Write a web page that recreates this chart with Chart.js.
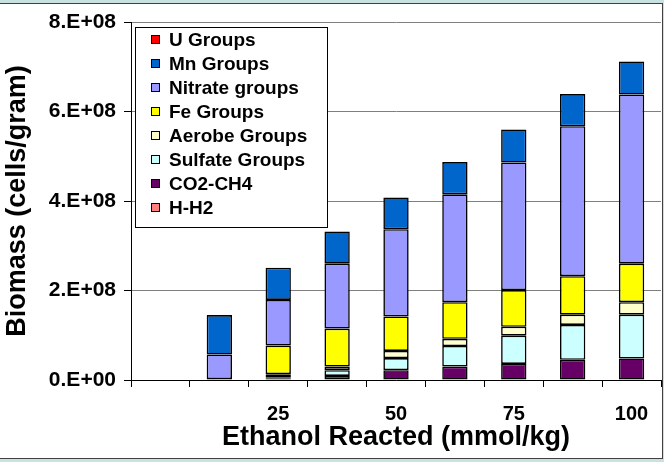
<!DOCTYPE html>
<html>
<head>
<meta charset="utf-8">
<title>Biomass vs Ethanol Reacted</title>
<script src="https://cdn.jsdelivr.net/npm/chart.js@4.4.0/dist/chart.umd.min.js"></script>
<style>
  html, body { margin: 0; padding: 0; }
  body { width: 664px; height: 462px; background: #c8e2e2; position: relative; overflow: hidden; }
  #frame { position: absolute; left: -1px; top: 3px; width: 662px; height: 454px; background: #fff; border: 1px solid #404040; }
  #wrap { position: absolute; left: 0; top: 0; width: 664px; height: 462px; }
</style>
</head>
<body>
<div id="frame"></div>
<div id="wrap"><canvas id="myChart" width="664" height="462"></canvas></div>
<script>
var ethanol = [0, 12.5, 25, 37.5, 50, 62.5, 75, 87.5, 100];
var tickLabels = ["", "", "25", "", "50", "", "75", "", "100"];

// biomass in cells/gram, listed from the bottom of the stack up
var hH2     = [0, 0.01e8, 0.01e8, 0.01e8, 0.01e8, 0.01e8, 0.01e8, 0.01e8, 0.01e8];
var co2CH4  = [0, 0.01e8, 0.02e8, 0.08e8, 0.21e8, 0.29e8, 0.35e8, 0.44e8, 0.47e8];
var sulfate = [0, 0, 0.03e8, 0.13e8, 0.27e8, 0.46e8, 0.63e8, 0.78e8, 0.98e8];
var aerobe  = [0, 0, 0.07e8, 0.08e8, 0.16e8, 0.16e8, 0.20e8, 0.23e8, 0.28e8];
var fe      = [0, 0, 0.64e8, 0.85e8, 0.77e8, 0.82e8, 0.82e8, 0.86e8, 0.86e8];
var nitrate = [0, 0.55e8, 1.02e8, 1.45e8, 1.95e8, 2.41e8, 2.85e8, 3.35e8, 3.78e8];
var mn      = [0, 0.88e8, 0.72e8, 0.72e8, 0.71e8, 0.72e8, 0.74e8, 0.72e8, 0.74e8];
var uGroups = [0, 0, 0, 0, 0, 0, 0, 0, 0];

var FONT = '"Liberation Sans", Arial, sans-serif';

function sci(v) {
    if (v === 0) return "0.E+00";
    var e = Math.floor(Math.log10(v));
    var m = Math.round(v / Math.pow(10, e));
    return m + ".E+" + (e < 10 ? "0" + e : e);
}

function series(label, data, color) {
    return {
        label: label,
        data: data,
        backgroundColor: color,
        borderColor: "#000",
        borderWidth: 1.6,
        borderSkipped: false,
        barPercentage: 0.43,
        categoryPercentage: 1
    };
}

// legend box sitting inside the plot, top of stack listed first
var boxLegend = {
    id: "boxLegend",
    afterDraw: function (chart) {
        var ctx = chart.ctx;
        var sets = chart.data.datasets.slice().reverse();
        ctx.save();
        ctx.fillStyle = "#fff";
        ctx.fillRect(135.5, 27.5, 192, 200);
        ctx.strokeStyle = "#000";
        ctx.lineWidth = 1;
        ctx.strokeRect(135.5, 27.5, 192, 200);
        ctx.font = "bold 19px " + FONT;
        ctx.textBaseline = "middle";
        ctx.textAlign = "left";
        for (var i = 0; i < sets.length; i++) {
            var y = 40 + i * 24;
            ctx.fillStyle = sets[i].backgroundColor;
            ctx.fillRect(151, y - 5, 9, 9);
            ctx.strokeRect(151.5, y - 4.5, 8, 8);
            ctx.fillStyle = "#000";
            ctx.fillText(sets[i].label, 169, y + 1);
        }
        ctx.restore();
    }
};

function makeChart() {
    var ctx = document.getElementById("myChart");
    var myChart = new Chart(ctx, {
        type: "bar",
        data: {
            labels: ethanol,
            datasets: [
                series("H-H2", hH2, "#ff8080"),
                series("CO2-CH4", co2CH4, "#660066"),
                series("Sulfate Groups", sulfate, "#ccffff"),
                series("Aerobe Groups", aerobe, "#ffffcc"),
                series("Fe Groups", fe, "#ffff00"),
                series("Nitrate groups", nitrate, "#9999ff"),
                series("Mn Groups", mn, "#0066cc"),
                series("U Groups", uGroups, "#ff0000")
            ]
        },
        options: {
            responsive: false,
            animation: false,
            devicePixelRatio: 1,
            layout: { padding: { top: 22, right: 3, bottom: 0, left: 0 } },
            plugins: {
                legend: { display: false },
                tooltip: { enabled: false }
            },
            scales: {
                x: {
                    stacked: true,
                    afterFit: function (scale) { scale.height = 82; },
                    grid: {
                        offset: true,
                        drawOnChartArea: false,
                        tickLength: 7,
                        tickColor: "#000",
                        color: "#000"
                    },
                    border: { color: "#000", width: 1 },
                    ticks: {
                        autoSkip: false,
                        maxRotation: 0,
                        padding: 15,
                        color: "#000",
                        font: { family: FONT, size: 20, weight: "bold" },
                        callback: function (val, i) { return tickLabels[i]; }
                    },
                    title: {
                        display: true,
                        text: "Ethanol Reacted (mmol/kg)",
                        color: "#000",
                        padding: { top: 0, bottom: 8 },
                        font: { family: FONT, size: 27, weight: "bold" }
                    }
                },
                y: {
                    stacked: true,
                    min: 0,
                    max: 8e8,
                    afterFit: function (scale) { scale.width = 131; },
                    grid: {
                        color: "#808080",
                        lineWidth: 1,
                        tickLength: 7,
                        tickColor: "#000"
                    },
                    border: { color: "#000", width: 1 },
                    ticks: {
                        stepSize: 2e8,
                        padding: 8,
                        color: "#000",
                        font: { family: FONT, size: 21, weight: "bold" },
                        callback: function (v) { return sci(v); }
                    },
                    title: {
                        display: true,
                        text: "Biomass (cells/gram)",
                        color: "#000",
                        padding: { top: 1, bottom: 0 },
                        font: { family: FONT, size: 27, weight: "bold" }
                    }
                }
            }
        },
        plugins: [boxLegend]
    });
}

makeChart();
</script>
</body>
</html>
